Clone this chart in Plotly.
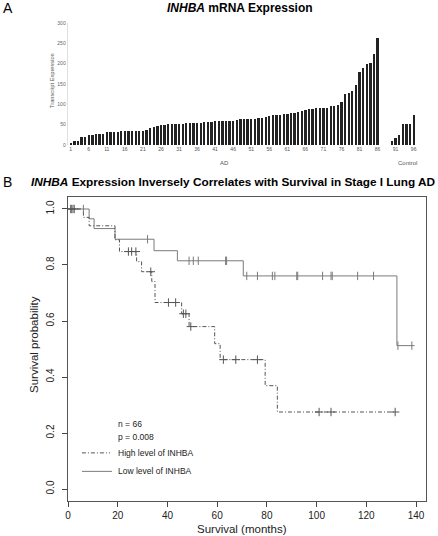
import numpy as np
import plotly.graph_objects as go

W, H = 438, 536
FONT = "Liberation Sans, Arial, Helvetica, sans-serif"

# ---------------- Panel A data ----------------
ad_index = list(range(1, 87))
ad_values = [6, 10, 11, 20, 20, 25, 25, 26, 27, 27,
             32, 32, 32, 33, 34, 34, 34, 35, 35, 35,
             35, 37, 43, 44, 46, 48, 49, 51, 52, 52,
             52, 52, 53, 53, 54, 54, 55, 56, 57, 57,
             58, 58, 58, 59, 59, 60, 61, 63, 63, 63,
             64, 65, 66, 67, 70, 71, 73, 74, 75, 76,
             77, 78, 79, 81, 83, 86, 88, 89, 90, 91,
             92, 92, 96, 97, 98, 105, 125, 127, 133, 148,
             179, 189, 198, 201, 223, 262]
control_index = [90, 91, 92, 93, 94, 95, 96]
control_values = [10, 18, 24, 51, 51, 51, 74]
bar_ticks = list(range(1, 97, 5))
bar_yticks = [0, 50, 100, 150, 200, 250, 300]

# ---------------- Panel B data (Kaplan-Meier) ----------------
low_time = [0, 8.5, 10.5, 18.9, 34.6, 44.0, 70.5, 132.3, 139.4]
low_surv = [1.0, 0.965, 0.93, 0.892, 0.851, 0.815, 0.761, 0.512, 0.512]
low_censor = [1.0, 2.0, 6.2, 32.0, 48.7, 50.4, 52.4, 63.4, 63.8, 71.9, 76.2,
              82.2, 83.2, 92.0, 92.4, 102.4, 105.8, 106.3, 116.5, 122.9, 132.7, 138.3]

high_time = [0, 6.2, 8.5, 18.9, 20.7, 27.6, 29.6, 33.7, 35.0, 45.7, 48.7,
             59.0, 61.2, 79.3, 84.2, 131.6]
high_surv = [1.0, 0.97, 0.94, 0.89, 0.848, 0.812, 0.776, 0.741, 0.666, 0.626,
             0.58, 0.519, 0.462, 0.369, 0.275, 0.275]
high_censor = [1.5, 2.5, 24.3, 25.6, 27.3, 33.3, 40.4, 43.3, 46.4, 47.4, 49.4,
               62.5, 67.5, 76.2, 101.0, 105.8, 131.6]

km_xticks = [0, 20, 40, 60, 80, 100, 120, 140]
km_yticks = [0.0, 0.2, 0.4, 0.6, 0.8, 1.0]


def surv_at(times, surv, t):
    times = np.asarray(times)
    idx = np.searchsorted(times, t, side="right") - 1
    return [surv[i] for i in idx]


def px_x(p):
    return p / W


def px_y(p):
    return 1 - p / H


fig = go.Figure()

# bars
fig.add_trace(go.Bar(x=ad_index, y=ad_values, width=0.5, marker_color="#222",
                     marker_line_width=0, xaxis="x", yaxis="y", showlegend=False))
fig.add_trace(go.Bar(x=control_index, y=control_values, width=0.5, marker_color="#222",
                     marker_line_width=0, xaxis="x", yaxis="y", showlegend=False))

# KM curves
LOW_COL = "#7a7a7a"
HIGH_COL = "#555555"
DASH = "4px,2px,1px,2px"
fig.add_trace(go.Scatter(x=low_time, y=low_surv, mode="lines", line_shape="hv",
                         line=dict(color=LOW_COL, width=1), xaxis="x2", yaxis="y2",
                         showlegend=False))
fig.add_trace(go.Scatter(x=high_time, y=high_surv, mode="lines", line_shape="hv",
                         line=dict(color=HIGH_COL, width=1, dash=DASH), xaxis="x2", yaxis="y2",
                         showlegend=False))
fig.add_trace(go.Scatter(x=low_censor, y=surv_at(low_time, low_surv, low_censor), mode="markers",
                         marker=dict(symbol="line-ns", size=6, line=dict(color=LOW_COL, width=1)),
                         xaxis="x2", yaxis="y2", showlegend=False))
fig.add_trace(go.Scatter(x=high_censor, y=surv_at(high_time, high_surv, high_censor), mode="markers",
                         marker=dict(symbol="cross-thin", size=6, line=dict(color=HIGH_COL, width=1)),
                         xaxis="x2", yaxis="y2", showlegend=False))

# legend line samples (data coords)
fig.add_shape(type="line", x0=5.6, x1=16.9, y0=0.129, y1=0.129, xref="x2", yref="y2",
              line=dict(color=HIGH_COL, width=1, dash=DASH))
fig.add_shape(type="line", x0=5.6, x1=17.7, y0=0.063, y1=0.063, xref="x2", yref="y2",
              line=dict(color=LOW_COL, width=1))

ann = []


def A(text, x, y, size, color="#000", xanchor="center", textangle=0, yanchor="middle"):
    ann.append(dict(text=text, x=px_x(x), y=px_y(y), xref="paper", yref="paper",
                    showarrow=False, xanchor=xanchor, yanchor=yanchor, textangle=textangle,
                    font=dict(family=FONT, size=size, color=color)))


A("A", 1, 8, 14, xanchor="left")
A("<b><i>INHBA</i> mRNA Expression</b>", 239.5, 8, 12)
A("Transcript Expression", 52, 81, 5.7, color="#555", textangle=-90)
A("AD", 224, 163, 6, color="#555")
A("Control", 407, 163, 6, color="#555")
A("B", 1, 182, 14, xanchor="left")
A("<b><i>INHBA</i> Expression Inversely Correlates with Survival in Stage I Lung AD</b>",
  29, 182, 11.8, xanchor="left")
A("Survival probability", 34, 345, 11.5, color="#222", textangle=-90)
A("Survival (months)", 242, 529, 11.5, color="#222")
for txt, y in [("n = 66", 424.3), ("p = 0.008", 437.3),
               ("High level of INHBA", 453.3), ("Low level of INHBA", 471.7)]:
    ann.append(dict(text=txt, x=19.2, y=1 - (y - 209) / 280.5, xref="x2", yref="y2",
                    showarrow=False, xanchor="left", yanchor="middle",
                    font=dict(family=FONT, size=8.5, color="#222")))

fig.update_layout(
    width=W, height=H, margin=dict(l=0, r=0, t=0, b=0),
    paper_bgcolor="white", plot_bgcolor="white",
    font=dict(family=FONT), annotations=ann, bargap=0,
    xaxis=dict(domain=[px_x(67.7), px_x(420)], range=[0.17, 97.76], anchor="y",
               tickmode="array", tickvals=bar_ticks, ticktext=[str(t) for t in bar_ticks],
               tickfont=dict(size=5, color="#555"), ticks="", showline=False,
               showgrid=False, zeroline=False, automargin=False),
    yaxis=dict(domain=[px_y(145), px_y(23)], range=[0, 300], anchor="x",
               tickmode="array", tickvals=bar_yticks,
               tickfont=dict(size=5, color="#666"), ticks="", showline=True,
               linecolor="#e0e0e0", linewidth=1, showgrid=False, zeroline=False,
               automargin=False),
    xaxis2=dict(domain=[px_x(68), px_x(426)], range=[0, 144], anchor="y2",
                tickmode="array", tickvals=km_xticks, ticktext=[str(t) for t in km_xticks],
                ticks="outside", ticklen=5, tickcolor="#444", tickwidth=1,
                tickfont=dict(size=10, color="#222"), showline=True, linecolor="#555",
                linewidth=1, mirror=True, showgrid=False, zeroline=False, automargin=False),
    yaxis2=dict(domain=[px_y(501), px_y(197)], range=[-0.0428, 1.0428], anchor="x2",
                tickmode="array", tickvals=km_yticks, ticktext=[f"{t:.1f}" for t in km_yticks],
                tickangle=-90, ticks="outside", ticklen=5, tickcolor="#444", tickwidth=1,
                ticklabelstandoff=4,
                tickfont=dict(size=10, color="#222"), showline=True, linecolor="#555",
                linewidth=1, mirror=True, showgrid=False, zeroline=False, automargin=False),
)

fig.write_html("out.html", config={"displayModeBar": False},
               post_script="document.body.style.margin='0';document.body.style.overflow='hidden';")
